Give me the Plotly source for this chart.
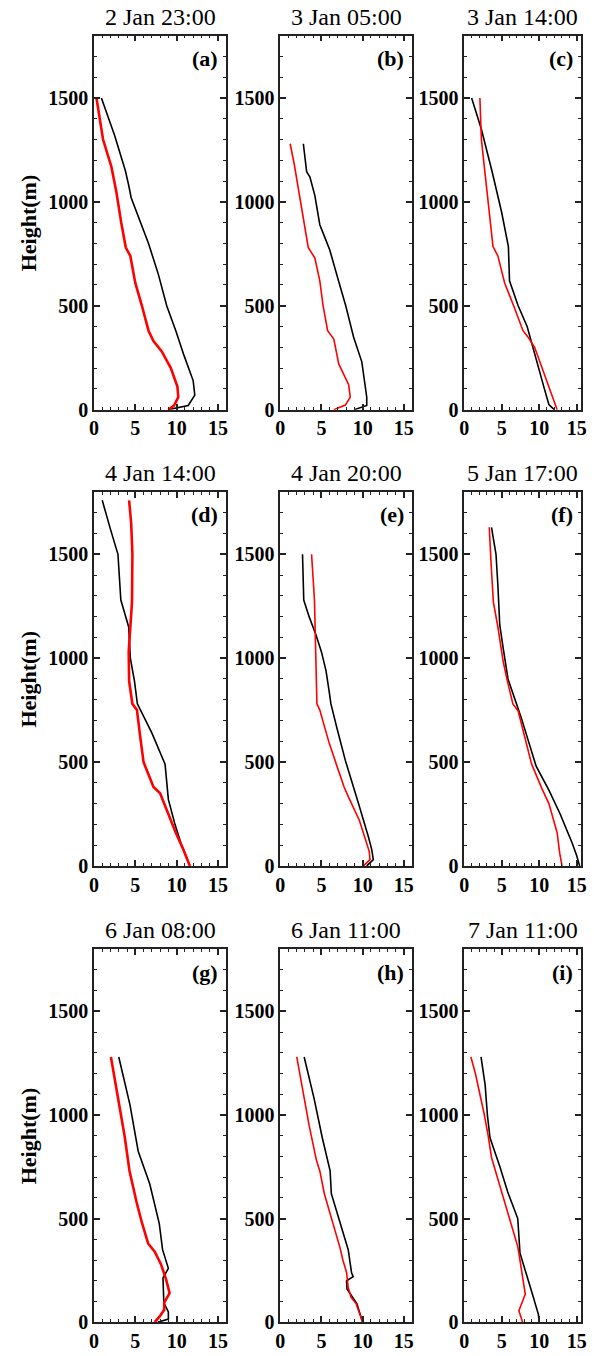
import plotly.graph_objects as go

# ---------------- data (wind speed vs height) ----------------
titles = ["2 Jan 23:00", "3 Jan 05:00", "3 Jan 14:00",
          "4 Jan 14:00", "4 Jan 20:00", "5 Jan 17:00",
          "6 Jan 08:00", "6 Jan 11:00", "7 Jan 11:00"]
letters = ["(a)", "(b)", "(c)", "(d)", "(e)", "(f)", "(g)", "(h)", "(i)"]

a_black_v = [9.0, 11.4, 12.2, 12.0, 10.9, 9.9, 8.8, 7.8, 6.6, 5.2, 4.5, 4.2, 3.8, 2.5, 0.9]
a_black_h = [0, 20, 70, 140, 260, 380, 500, 650, 800, 950, 1020, 1080, 1150, 1320, 1500]
a_red_v = [9.0, 9.7, 10.2, 10.1, 9.3, 8.2, 7.2, 6.6, 5.8, 5.0, 4.4, 3.85, 3.3, 2.7, 2.1, 1.1, 0.3]
a_red_h = [0, 20, 60, 110, 200, 280, 330, 380, 500, 610, 740, 780, 900, 1050, 1170, 1300, 1500]

b_black_v = [9.0, 10.5, 10.5, 10.3, 9.9, 8.9, 7.95, 7.0, 6.0, 5.3, 4.8, 4.2, 3.6, 3.2, 2.8]
b_black_h = [0, 20, 60, 110, 230, 350, 500, 630, 770, 840, 890, 1030, 1120, 1145, 1280]
b_red_v = [6.5, 7.9, 8.5, 8.3, 7.1, 6.5, 5.75, 5.2, 4.8, 4.2, 3.4, 2.8, 2.3, 1.7, 1.2]
b_red_h = [0, 22, 60, 120, 220, 340, 380, 500, 620, 730, 780, 920, 1050, 1180, 1280]

c_black_v = [12.0, 11.3, 10.7, 9.6, 8.4, 7.2, 6.05, 5.9, 5.0, 3.7, 2.3, 1.0]
c_black_h = [0, 25, 100, 250, 400, 500, 620, 785, 950, 1150, 1350, 1500]
c_red_v = [12.4, 11.4, 10.4, 9.4, 8.5, 7.85, 6.6, 5.4, 4.5, 3.85, 3.2, 2.3, 2.1]
c_red_h = [0, 100, 200, 300, 350, 380, 500, 610, 740, 785, 1000, 1300, 1500]

d_black_v = [11.6, 10.6, 9.8, 9.0, 8.6, 7.0, 5.25, 4.9, 4.4, 4.2, 3.25, 2.9, 2.0, 1.0]
d_black_h = [0, 100, 200, 320, 490, 640, 780, 890, 1000, 1150, 1280, 1500, 1620, 1760]
d_red_v = [11.6, 10.8, 9.9, 9.0, 8.0, 7.2, 6.6, 6.0, 5.6, 5.2, 4.65, 4.25, 4.2, 4.4, 4.6, 4.65, 4.5, 4.25]
d_red_h = [0, 80, 160, 253, 350, 380, 440, 500, 620, 750, 780, 890, 1030, 1150, 1270, 1500, 1650, 1760]

e_black_v = [10.5, 11.3, 11.1, 10.7, 9.5, 7.9, 6.9, 6.15, 5.9, 5.55, 5.0, 4.35, 3.5, 2.85, 2.7]
e_black_h = [0, 30, 80, 140, 300, 508, 660, 780, 850, 940, 1030, 1110, 1200, 1280, 1500]
e_red_v = [10.1, 10.9, 10.8, 10.5, 9.6, 8.3, 7.75, 6.8, 5.95, 5.3, 4.8, 4.45, 4.35, 4.15, 3.8]
e_red_h = [0, 30, 70, 110, 220, 330, 380, 490, 590, 680, 750, 780, 1000, 1280, 1500]

f_black_v = [15.4, 15.0, 14.4, 12.8, 11.3, 9.6, 7.6, 5.85, 5.2, 4.75, 4.5, 4.25, 3.65]
f_black_h = [0, 50, 110, 250, 365, 480, 715, 900, 1050, 1160, 1350, 1500, 1630]
f_red_v = [13.05, 12.75, 12.4, 11.3, 10.4, 9.0, 7.2, 6.5, 5.7, 5.2, 4.5, 3.9, 3.6, 3.35]
f_red_h = [0, 60, 160, 300, 370, 490, 746, 780, 900, 985, 1150, 1270, 1450, 1630]

g_black_v = [7.7, 9.0, 9.0, 8.45, 8.35, 9.0, 8.3, 7.9, 6.75, 5.35, 4.35, 3.6, 3.0]
g_black_h = [0, 15, 50, 95, 213, 260, 350, 476, 667, 825, 1050, 1180, 1280]
g_red_v = [7.35, 8.0, 8.5, 8.5, 9.15, 8.7, 8.1, 7.35, 6.55, 5.8, 5.15, 4.3, 3.7, 2.9, 2.05]
g_red_h = [0, 30, 60, 95, 140, 210, 280, 340, 380, 480, 580, 730, 900, 1080, 1280]

h_black_v = [10.0, 9.3, 8.1, 8.05, 8.85, 8.65, 8.25, 7.2, 6.2, 6.05, 5.1, 4.1, 2.9]
h_black_h = [0, 90, 160, 200, 220, 240, 350, 490, 620, 730, 890, 1080, 1280]
h_red_v = [10.0, 9.2, 8.6, 8.25, 8.05, 7.6, 7.25, 6.3, 5.35, 4.8, 4.4, 3.5, 2.8, 2.0]
h_red_h = [0, 90, 120, 166, 240, 300, 360, 490, 620, 730, 780, 950, 1100, 1280]

i_black_v = [10.0, 9.9, 8.9, 7.45, 7.15, 5.8, 4.8, 3.45, 3.1, 2.8, 2.25]
i_black_h = [0, 38, 160, 333, 500, 630, 747, 890, 1000, 1145, 1280]
i_red_v = [7.8, 7.3, 8.15, 7.7, 7.3, 7.15, 5.6, 4.1, 3.65, 3.2, 2.7, 1.5, 0.9]
i_red_h = [0, 55, 135, 250, 333, 365, 560, 745, 795, 900, 1000, 1200, 1280]

black_v = [a_black_v, b_black_v, c_black_v, d_black_v, e_black_v, f_black_v, g_black_v, h_black_v, i_black_v]
black_h = [a_black_h, b_black_h, c_black_h, d_black_h, e_black_h, f_black_h, g_black_h, h_black_h, i_black_h]
red_v = [a_red_v, b_red_v, c_red_v, d_red_v, e_red_v, f_red_v, g_red_v, h_red_v, i_red_v]
red_h = [a_red_h, b_red_h, c_red_h, d_red_h, e_red_h, f_red_h, g_red_h, h_red_h, i_red_h]

x_tickvals = [0, 5, 10, 15]
y_tickvals = [0, 500, 1000, 1500]

# ---------------- layout geometry (pixels) ----------------
W, H = 594, 1356
col_px = [(90.5, 225), (280, 414), (467, 586)]
col_xmax = [16, 16, 15.6]
row_px = [(36, 413), (496, 873), (957, 1333)]

fig = go.Figure()
axis_font = dict(family="Liberation Serif", size=20, color="black", weight="bold")
frame = "#222222"

for k in range(9):
    r, c = divmod(k, 3)
    n = "" if k == 0 else str(k + 1)
    xa, ya = "x" + n, "y" + n
    x0, x1 = col_px[c]
    y0, y1 = row_px[r]
    red_w = 2.6 if c == 0 else 1.6
    fig.add_trace(go.Scatter(x=black_v[k], y=black_h[k], mode="lines",
                             line=dict(color="black", width=1.6),
                             xaxis=xa, yaxis=ya, showlegend=False))
    fig.add_trace(go.Scatter(x=red_v[k], y=red_h[k], mode="lines",
                             line=dict(color="#ff0000", width=red_w),
                             xaxis=xa, yaxis=ya, showlegend=False))
    common = dict(showline=True, linecolor=frame, linewidth=1.5, mirror="allticks",
                  ticks="inside", tickcolor=frame, tickwidth=1.5, ticklen=6,
                  showgrid=False, zeroline=False, tickfont=axis_font)
    fig.layout["xaxis" + n] = dict(
        domain=[x0 / W, x1 / W], range=[0, col_xmax[c]], anchor=ya,
        tickvals=x_tickvals, ticktext=[str(v) for v in x_tickvals],
        minor=dict(dtick=1, tick0=0, ticks="inside", ticklen=3, tickcolor=frame, tickwidth=1.2),
        **common)
    fig.layout["yaxis" + n] = dict(
        domain=[1 - y1 / H, 1 - y0 / H], range=[0, 1800], anchor=xa,
        tickvals=y_tickvals, ticktext=[str(v) for v in y_tickvals],
        minor=dict(dtick=100, tick0=0, ticks="inside", ticklen=3, tickcolor=frame, tickwidth=1.2),
        **common)
    fig.add_annotation(x=(x0 + x1) / 2 / W, y=1 - (y0 - 19) / H, xref="paper", yref="paper",
                       text=titles[k], showarrow=False, xanchor="center", yanchor="middle",
                       font=dict(family="Liberation Serif", size=24, color="black"))
    fig.add_annotation(x=(x1 - 6) / W, y=1 - (y0 + 23) / H, xref="paper", yref="paper",
                       text=letters[k], showarrow=False, xanchor="right", yanchor="middle",
                       font=dict(family="Liberation Serif", size=22, color="black", weight="bold"))
    if c == 0:
        fig.add_annotation(x=24 / W, y=1 - (y0 + y1) / 2 / H, xref="paper", yref="paper",
                           text="Height(m)", textangle=-90, showarrow=False,
                           xanchor="center", yanchor="middle",
                           font=dict(family="Liberation Serif", size=22, color="black", weight="bold"))

fig.update_layout(width=W, height=H, margin=dict(l=0, r=0, t=0, b=0),
                  paper_bgcolor="white", plot_bgcolor="white")
fig.write_html("out.html", config={"displayModeBar": False},
               post_script="document.documentElement.style.overflow='hidden';"
                           "document.body.style.margin='0';document.body.style.overflow='hidden';")
